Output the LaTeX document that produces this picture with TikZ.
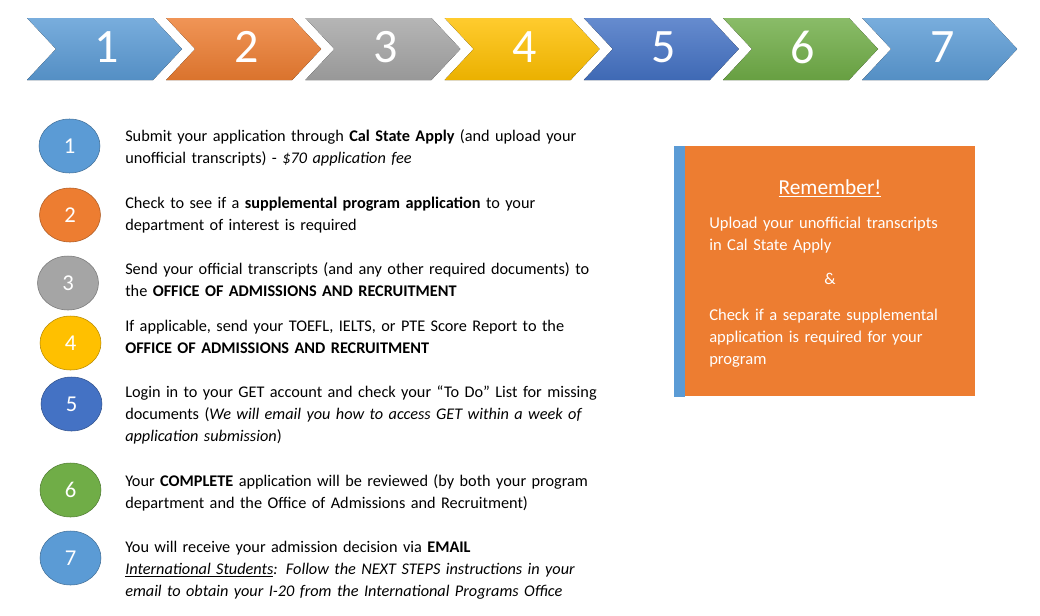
\documentclass[tikz,border=0pt]{standalone}
\usepackage{fontspec}
\setmainfont{Carlito}
\usepackage{tikz}
\usetikzlibrary{positioning, shapes.geometric}
\definecolor{cblue}{HTML}{5B9BD5}
\definecolor{corange}{HTML}{ED7D31}
\definecolor{cgray}{HTML}{A5A5A5}
\definecolor{cyellow}{HTML}{FFC000}
\definecolor{cdblue}{HTML}{4472C4}
\definecolor{cgreen}{HTML}{70AD47}
\tikzset{
  chev/.style={top color=#1!82!white, bottom color=#1!92!black, draw=none},
  chevnum/.style={font=\fontsize{36}{36}\selectfont, text=white, inner sep=0pt},
  dot/.style={ellipse, draw=#1!72!black, fill=#1, thin, minimum width=45.75pt,
              minimum height=40.5pt, inner sep=0pt, text=white, text depth=-2pt,
              font=\fontsize{17}{17}\selectfont},
  steptxt/.style={anchor=base west, inner sep=0pt, align=left, text width=380pt,
                  font=\fontsize{12.2}{16.5}\selectfont},
  memo/.style={fill=corange, draw=none, minimum width=217.5pt, minimum height=187.5pt,
               inner sep=0pt},
  memotxt/.style={anchor=base west, inner sep=0pt, align=left, text width=200pt,
                  text=white, font=\fontsize{12.4}{16.5}\selectfont}
}

\begin{document}
\begin{tikzpicture}[x=0.75pt, y=-0.75pt]
  \useasboundingbox[fill=white] (0,0) rectangle (1040,615);
  % step chevrons
  \foreach \i/\c in {1/cblue,2/corange,3/cgray,4/cyellow,5/cdblue,6/cgreen,7/cblue}{
    \pgfmathsetmacro{\L}{27+(\i-1)*139.2}
    \fill[chev=\c] (\L,18) -- ++(126,0) -- ++(29,31) -- ++(-29,31) -- ++(-126,0)
      -- ++(29,-31) -- cycle;
    \node[chevnum] (chev\i) at (\L+80,47) {\i};
  }
  % numbered dots
  \node[dot=cblue]   (c1) at (69.5,146) {1};
  \node[dot=corange] (c2) at (70,215) {2};
  \node[dot=cgray]   (c3) at (68,283) {3};
  \node[dot=cyellow] (c4) at (70.5,343) {4};
  \node[dot=cdblue]  (c5) at (71.5,404) {5};
  \node[dot=cgreen]  (c6) at (70.5,490) {6};
  \node[dot=cblue]   (c7) at (70.5,558) {7};
  % step texts
  \node[steptxt] (s1) at (125,141) {Submit your application through \textbf{Cal State Apply} (and upload your\\
    unofficial transcripts) - \textit{\$70 application fee}};
  \node[steptxt] (s2) at (125,208) {Check to see if a \textbf{supplemental program application} to your\\
    department of interest is required};
  \node[steptxt] (s3) at (125,274) {Send your official transcripts (and any other required documents) to\\
    the \textbf{OFFICE OF ADMISSIONS AND RECRUITMENT}};
  \node[steptxt] (s4) at (125,331) {If applicable, send your TOEFL, IELTS, or PTE Score Report to the\\
    \textbf{OFFICE OF ADMISSIONS AND RECRUITMENT}};
  \node[steptxt] (s5) at (125,397) {Login in to your GET account and check your ``To Do'' List for missing\\
    documents (\textit{We will email you how to access GET within a week of}\\
    \textit{application submission})};
  \node[steptxt] (s6) at (125,486) {Your \textbf{COMPLETE} application will be reviewed (by both your program\\
    department and the Office of Admissions and Recruitment)};
  \node[steptxt] (s7) at (125,552) {You will receive your admission decision via \textbf{EMAIL}\\
    \underline{\textit{International Students}}\textit{: Follow the NEXT STEPS instructions in your}\\
    \textit{email to obtain your I-20 from the International Programs Office}};
  % reminder box
  \node[memo, anchor=north west] (memo) at (685,146) {};
  \fill[cblue] (memo.north west) rectangle ([xshift=-8.25pt]memo.south west);
  \node[anchor=base, inner sep=0pt, text=white, font=\fontsize{16}{16}\selectfont]
    (rem) at (830,194) {\underline{Remember!}};
  \node[memotxt] (m1) at (709,228) {Upload your unofficial transcripts\\in Cal State Apply};
  \node[anchor=base, inner sep=0pt, text=white, font=\fontsize{12.4}{16.5}\selectfont]
    (amp) at (830,284) {\&};
  \node[memotxt] (m2) at (709,320) {Check if a separate supplemental\\
    application is required for your\\program};
\end{tikzpicture}
\end{document}
